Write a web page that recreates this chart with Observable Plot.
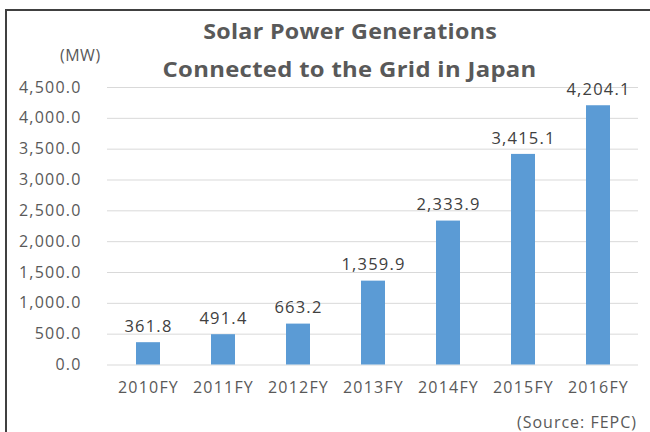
<!DOCTYPE html>
<html><head><meta charset="utf-8">
<script src="https://cdn.jsdelivr.net/npm/d3@7"></script>
<script src="https://cdn.jsdelivr.net/npm/@observablehq/plot@0.6"></script>
<style>
body{margin:0;background:#fff;}
#wrap{position:relative;width:650px;height:432px;overflow:hidden;font-family:"Open Sans",sans-serif;color:#595959;}
#frame{position:absolute;left:5px;top:9px;width:700px;height:500px;border:2px solid #404040;box-sizing:border-box;}
.t{position:absolute;white-space:nowrap;line-height:1;}
#chart{position:absolute;left:0;top:0;}
</style></head>
<body><div id="wrap"><div id="frame"></div><div id="chart"></div>
<div class="t fit" data-w="294" data-c="350" style="top:19px;font-weight:bold;font-size:22px;letter-spacing:0.3px;">Solar Power Generations</div>
<div class="t fit" data-w="374" data-c="350" style="top:57px;font-weight:bold;font-size:22px;letter-spacing:0.3px;">Connected to the Grid in Japan</div>
<div class="t" style="left:60px;top:47px;font-size:16px;letter-spacing:0.5px;">(MW)</div>
<div class="t" style="right:13px;top:414px;font-size:16px;letter-spacing:1px;">(Source: FEPC)</div>
</div>
<script>
const years = ["2010FY","2011FY","2012FY","2013FY","2014FY","2015FY","2016FY"];
const values = [361.8, 491.4, 663.2, 1359.9, 2333.9, 3415.1, 4204.1];
const yTicks = [0,500,1000,1500,2000,2500,3000,3500,4000,4500];
const data = years.map((y,i)=>({year:y, value:values[i]}));
const fmt = d3.format(",.1f");
const chart = Plot.plot({
  width:650, height:432,
  marginTop:87, marginBottom:67.5, marginLeft:107, marginRight:12,
  style:{fontFamily:"'Open Sans', sans-serif", fontSize:"16px", color:"#595959", background:"transparent", letterSpacing:"1.2px"},
  x:{domain:years, paddingInner:0.68, paddingOuter:0.34, label:null},
  y:{domain:[0,4500], label:null},
  marks:[
    Plot.gridY(yTicks,{stroke:"#d9d9d9", strokeOpacity:1, strokeWidth:1}),
    Plot.axisY(yTicks,{tickSize:0, tickPadding:26, tickFormat:fmt, fontSize:16, fill:"#595959"}),
    Plot.axisX({tickSize:0, tickPadding:17, fontSize:16, fill:"#595959"}),
    Plot.barY(data,{x:"year", y:"value", fill:"#5B9BD5"}),
    Plot.text(data,{x:"year", y:"value", text:d=>fmt(d.value), dy:-16, fontSize:16.5, fill:"#404040"})
  ]
});
document.getElementById("chart").appendChild(chart);
document.querySelectorAll(".fit").forEach(el=>{
  const target=+el.dataset.w, c=+el.dataset.c;
  const w0=el.getBoundingClientRect().width;
  const s=target/w0;
  el.style.left=(c - w0/2)+"px";
  el.style.transformOrigin="50% 50%";
  el.style.transform="scaleX("+s+")";
});
</script></body></html>
